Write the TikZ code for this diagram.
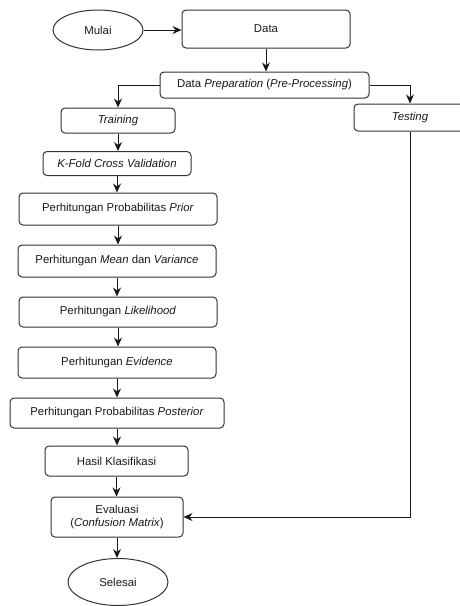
\documentclass[tikz,border=0pt]{standalone}
\usepackage{fontspec}
\setmainfont{Liberation Sans}
\usetikzlibrary{arrows.meta,shapes.geometric}
\begin{document}
\begin{tikzpicture}[x=1pt,y=-1pt,
  box/.style={draw=black!80, rounded corners=4pt, line width=1pt, inner sep=0pt,
    font=\fontsize{11.4}{13}\selectfont, text=black!90, align=center},
  oval/.style={ellipse, draw=black!80, line width=1pt, inner sep=0pt,
    font=\fontsize{11.4}{13}\selectfont, text=black!90},
  arr/.style={-{Stealth[length=9pt,width=8pt]}, line width=1pt, draw=black!90}]
\useasboundingbox (0,0) rectangle (459,606);
\node[oval, minimum width=90pt, minimum height=40pt] (mulai) at (98,30) {Mulai};
\node[box, minimum width=168pt, minimum height=38pt] (data) at (266,29) {Data};
\node[box, minimum width=209pt, minimum height=26pt] (prep) at (264.5,85) {Data \textit{Preparation} (\textit{Pre-Processing})};
\node[box, minimum width=114pt, minimum height=25pt] (train) at (118,120.5) {\textit{Training}};
\node[box, minimum width=112pt, minimum height=27pt] (test) at (410,117.5) {\textit{Testing}};
\node[box, minimum width=148pt, minimum height=24pt] (kfold) at (117,163.5) {\textit{K-Fold Cross Validation}};
\node[box, minimum width=198pt, minimum height=32pt] (prior) at (118,209) {Perhitungan Probabilitas \textit{Prior}};
\node[box, minimum width=198pt, minimum height=32pt] (mean) at (117,261) {Perhitungan \textit{Mean} dan \textit{Variance}};
\node[box, minimum width=198pt, minimum height=30pt] (like) at (118,312) {Perhitungan \textit{Likelihood}};
\node[box, minimum width=198pt, minimum height=31pt] (evid) at (117,362.5) {Perhitungan \textit{Evidence}};
\node[box, minimum width=214pt, minimum height=30pt] (post) at (117,413) {Perhitungan Probabilitas \textit{Posterior}};
\node[box, minimum width=143pt, minimum height=30pt] (hasil) at (116.5,461) {Hasil Klasifikasi};
\node[box, minimum width=132pt, minimum height=40pt] (eval) at (117,517) {Evaluasi\\(\textit{Confusion Matrix})};
\node[oval, minimum width=100pt, minimum height=47pt] (selesai) at (118,582) {Selesai};

\draw[arr] (mulai.east) -- (data.west |- mulai.east);
\draw[arr] (data.south) -- (data.south |- prep.north);
\draw[arr] (prep.west) -| (train.north);
\draw[arr] (prep.east) -| (test.north);
\draw[arr] (train.south) -- (train.south |- kfold.north);
\draw[arr] (kfold.south) -- (kfold.south |- prior.north);
\draw[arr] (prior.south) -- (prior.south |- mean.north);
\draw[arr] (mean.south) -- (mean.south |- like.north);
\draw[arr] (like.south) -- (like.south |- evid.north);
\draw[arr] (evid.south) -- (evid.south |- post.north);
\draw[arr] (post.south) -- (post.south |- hasil.north);
\draw[arr] (hasil.south) -- (hasil.south |- eval.north);
\draw[arr] (eval.south) -- (eval.south |- selesai.north);
\draw[arr] (test.south) |- (eval.east);
\end{tikzpicture}
\end{document}
